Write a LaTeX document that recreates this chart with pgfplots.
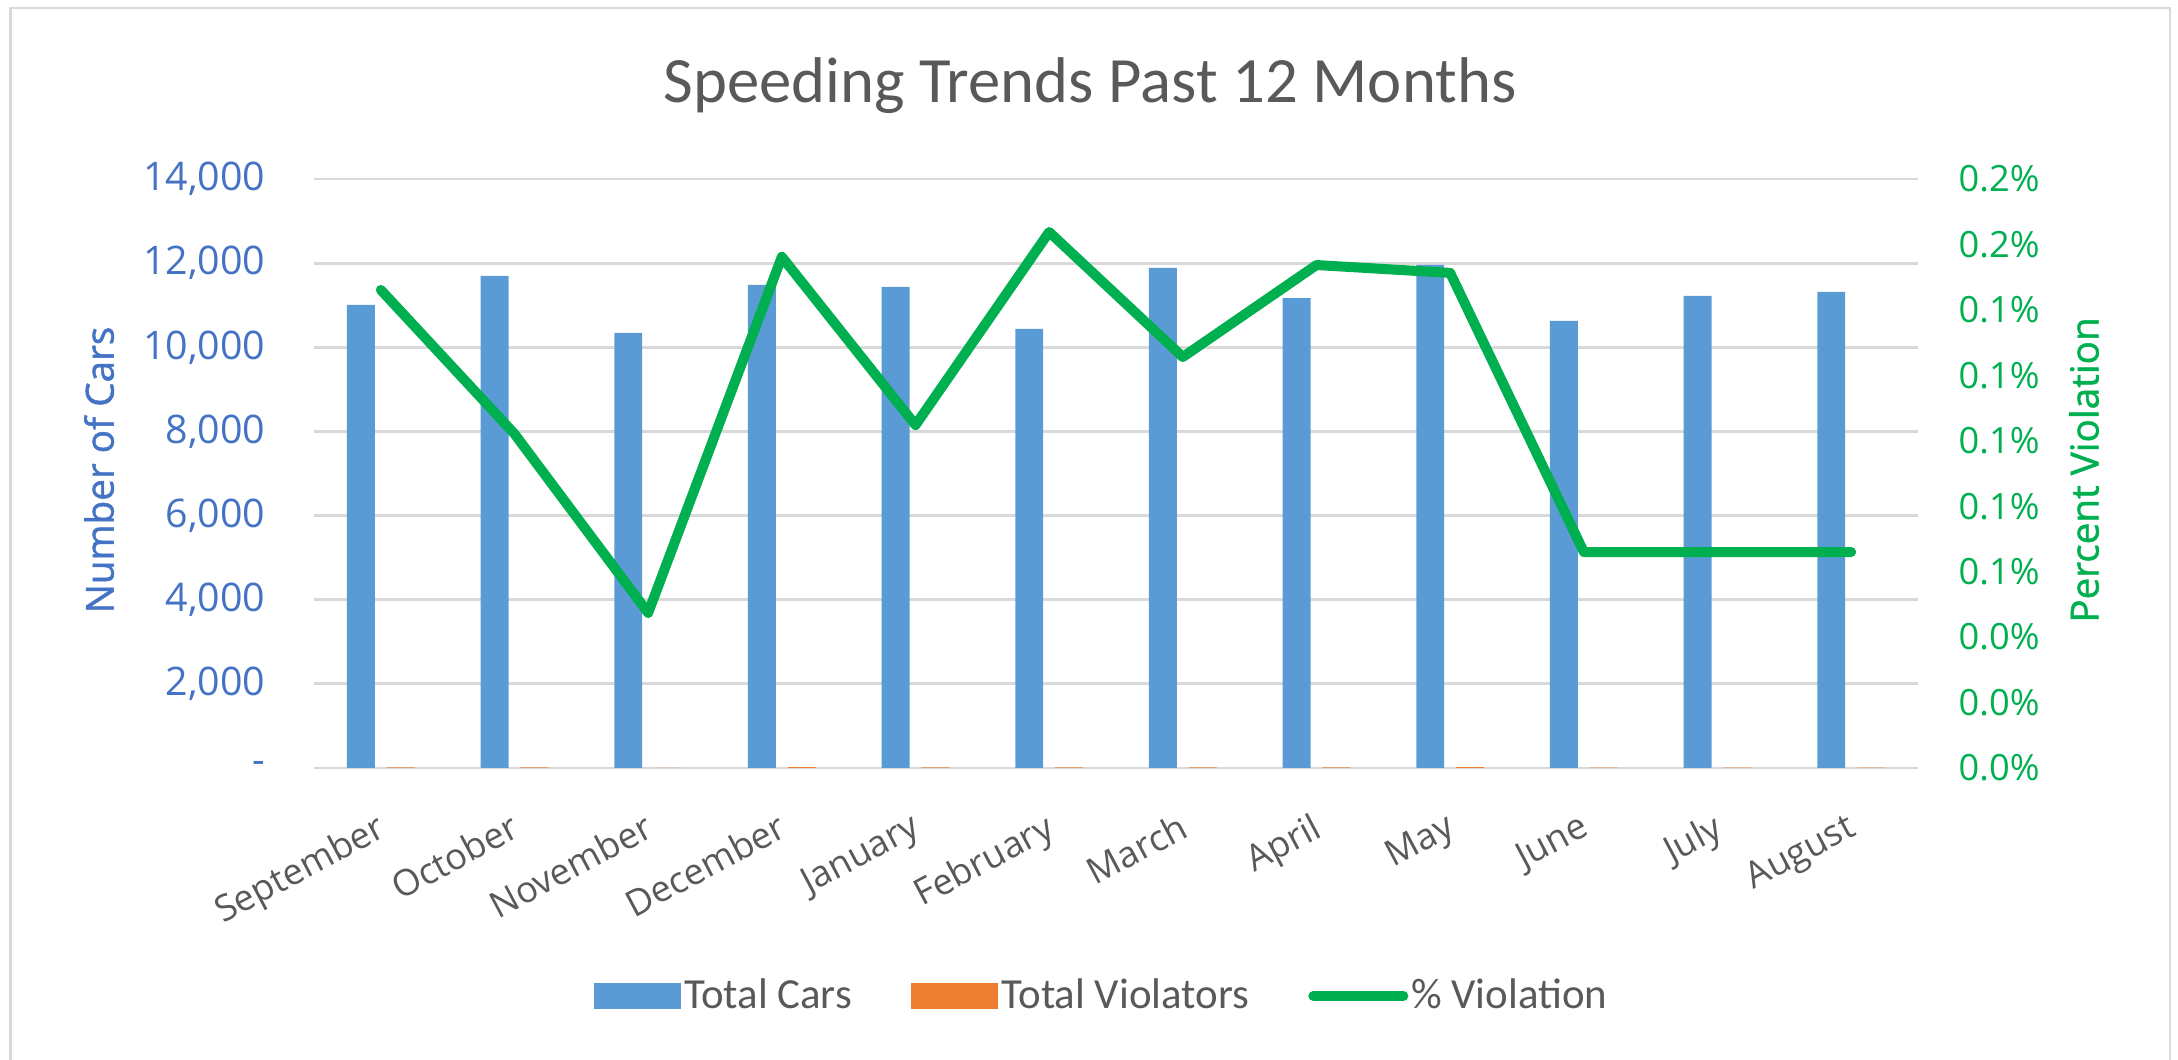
\documentclass[border=0pt]{standalone}
\usepackage{pgfplots}
\pgfplotsset{compat=1.18}
\usepackage{fontspec}
\setmainfont{Carlito}
\newfontfamily\osans{Open Sans}
\newfontfamily\osansB{Open Sans}[FakeBold=1.2]
\definecolor{barblue}{HTML}{5B9BD5}
\definecolor{barorange}{HTML}{ED7D31}
\definecolor{lgreen}{HTML}{00B050}
\definecolor{tblue}{HTML}{4472C4}
\definecolor{tgray}{HTML}{595959}
\definecolor{gridc}{HTML}{D9D9D9}
\newcommand{\tickfont}{\osans\fontsize{10.3}{12}\selectfont}
\begin{document}
\begin{tikzpicture}
\path[use as bounding box] (0cm,0cm) rectangle (21.78cm,10.6cm);
\draw[gridc, line width=0.8pt] (0.105cm,0cm) -- (0.105cm,10.52cm) -- (21.70cm,10.52cm) -- (21.70cm,0cm);
\node[font=\fontsize{18.4}{22}\selectfont, text=tgray, anchor=base] at (10.9cm,9.57cm) {Speeding Trends Past 12 Months};
\node[font=\osansB\fontsize{11}{13}\selectfont, text=tblue, rotate=90] at (0.99cm,5.9cm) {Number of Cars};
\node[font=\osansB\fontsize{11}{13}\selectfont, text=lgreen, rotate=90] at (20.84cm,5.9cm) {Percent Violation};

\begin{axis}[
  scale only axis, width=16.04cm, height=5.89cm,
  at={(3.14cm,2.92cm)}, anchor=south west,
  xmin=-0.5, xmax=11.5, ymin=0, ymax=14000,
  scaled y ticks=false,
  xtick={0,1,2,3,4,5,6,7,8,9,10,11},
  xticklabels={September,October,November,December,January,February,March,April,May,June,July,August},
  ytick={0,2000,4000,6000,8000,10000,12000,14000},
  yticklabels={{-\hspace{2.1mm}},{2,000},{4,000},{6,000},{8,000},{10,000},{12,000},{14,000}},
  ymajorgrids, grid style={gridc, line width=0.8pt},
  axis line style={draw=none}, major tick length=0pt,
  yticklabel style={font=\osans\fontsize{11.2}{13}\selectfont, text=tblue, inner sep=0pt, xshift=-4.8mm},
  xticklabel style={font=\tickfont, text=tgray, rotate=28, anchor=north east, inner sep=0pt, yshift=-3.5mm, xshift=-2.5mm},
]
\addplot[ybar, bar width=0.2087, bar shift=-0.149, fill=barblue, draw=none] coordinates {
(0,11005) (1,11694) (2,10340) (3,11481) (4,11433) (5,10435)
(6,11885) (7,11171) (8,11956) (9,10625) (10,11219) (11,11314)};
\addplot[ybar, bar width=0.2087, bar shift=0.149, fill=barorange, draw=none] coordinates {
(0,16) (1,12) (2,5) (3,18) (4,12) (5,17)
(6,15) (7,17) (8,18) (9,7) (10,7) (11,7)};
\end{axis}

\begin{axis}[
  scale only axis, width=16.04cm, height=5.89cm,
  at={(3.14cm,2.92cm)}, anchor=south west,
  xmin=-0.5, xmax=11.5, ymin=0, ymax=0.18,
  scaled y ticks=false,
  axis y line*=right, axis x line=none,
  xtick=\empty,
  ytick={0,0.02,0.04,0.06,0.08,0.1,0.12,0.14,0.16,0.18},
  yticklabels={0.0\%,0.0\%,0.0\%,0.1\%,0.1\%,0.1\%,0.1\%,0.1\%,0.2\%,0.2\%},
  axis line style={draw=none}, major tick length=0pt,
  yticklabel style={font=\tickfont, text=lgreen, inner sep=0pt, xshift=4.0mm},
  legend style={at={(axis description cs:0.4913,-0.387)}, anchor=center, draw=none, fill=none,
    legend columns=3, font=\fontsize{12.2}{14}\selectfont, text=tgray,
    /tikz/every odd column/.append style={column sep=0mm},
    /tikz/every even column/.append style={column sep=5.6mm},
    nodes={inner sep=0.3mm}},
]
\addlegendimage{legend image code/.code={\fill[barblue] (0mm,-1.25mm) rectangle (8.6mm,1.25mm);}}
\addlegendentry{Total Cars}
\addlegendimage{legend image code/.code={\fill[barorange] (0mm,-1.25mm) rectangle (8.6mm,1.25mm);}}
\addlegendentry{Total Violators}
\addplot[lgreen, line width=1mm, line join=round, line cap=round, mark=none,
  legend image code/.code={\draw[lgreen, line width=1mm, line cap=round] (0.5mm,0mm) -- (9.5mm,0mm);}] coordinates {
(0,0.1461) (1,0.1021) (2,0.0474) (3,0.1562) (4,0.1048) (5,0.1638)
(6,0.1256) (7,0.1537) (8,0.1513) (9,0.0660) (10,0.0660) (11,0.0660)};
\addlegendentry{\% Violation}
\end{axis}
\end{tikzpicture}
\end{document}
